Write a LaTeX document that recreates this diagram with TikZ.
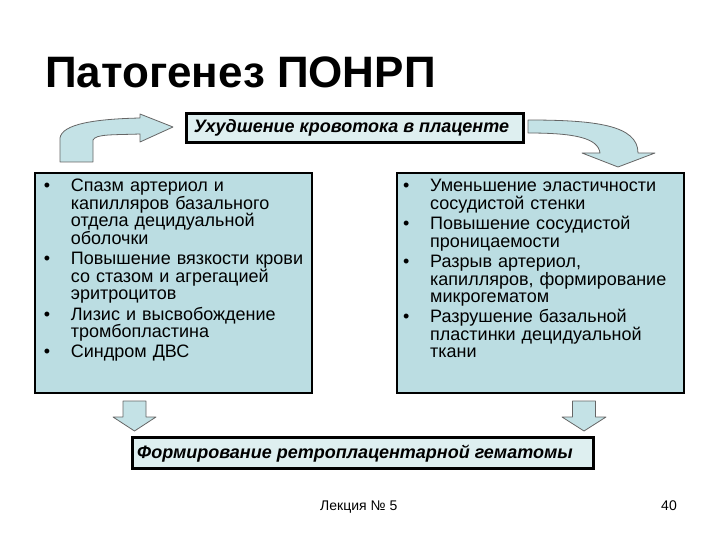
\documentclass[tikz,border=0pt]{standalone}
\usepackage{fontspec}
\setmainfont{Liberation Sans}
\definecolor{boxblue}{RGB}{187,221,226}
\definecolor{lightbox}{RGB}{222,239,240}
\definecolor{arrowfill}{RGB}{196,226,230}
\newcommand\bul{\leavevmode\llap{\makebox[27pt][l]{•}}}
\begin{document}
\begin{tikzpicture}[x=1pt,y=-1pt,
  sidebox/.style={draw=black, line width=2.5pt, fill=boxblue, inner sep=0pt},
  hbox/.style={draw=black, line width=3pt, fill=lightbox, inner sep=0pt},
  blockarrow/.style={fill=arrowfill, draw=black!60, line width=0.8pt, line join=round},
  listtext/.style={font=\fontsize{18}{17.5}\selectfont, text width=280pt, align=left, inner sep=0pt, anchor=base west},
  headtext/.style={font=\fontsize{18}{20}\selectfont\bfseries\itshape, inner sep=0pt},
  foot/.style={font=\fontsize{14}{16}\selectfont, inner sep=0pt}
]
\useasboundingbox (0,0) rectangle (720,540);

\node[anchor=base west, inner sep=0pt, font=\fontsize{44}{50}\selectfont\bfseries] (title) at (45,88) {Патогенез ПОНРП};

% top box
\node[hbox, minimum width=337pt, minimum height=29pt] (top) at (354.5,128.5) {};
\node[headtext, anchor=base] (toptext) at (351.5,133) {Ухудшение кровотока в плаценте};

% side boxes
\node[sidebox, minimum width=277pt, minimum height=220pt] (left) at (173.5,283) {};
\node[sidebox, minimum width=287pt, minimum height=220pt] (right) at (540.5,283) {};

\node[listtext] (lefttext) at (70.7,192) {\bul Спазм артериол и\\
капилляров базального\\
отдела децидуальной\\
оболочки\\[2.8pt]
\bul Повышение вязкости крови\\
со стазом и агрегацией\\
эритроцитов\\[2.8pt]
\bul Лизис и высвобождение\\
тромбопластина\\[2.8pt]
\bul Синдром ДВС};

\node[listtext] (righttext) at (430,192) {\bul Уменьшение эластичности\\
сосудистой стенки\\[2.8pt]
\bul Повышение сосудистой\\
проницаемости\\[2.8pt]
\bul Разрыв артериол,\\
капилляров, формирование\\
микрогематом\\[2.8pt]
\bul Разрушение базальной\\
пластинки децидуальной\\
ткани};

% bottom box
\node[hbox, minimum width=461pt, minimum height=31pt] (bottom) at (362.5,452.5) {};
\node[headtext, anchor=base west] (bottomtext) at (137,458) {Формирование ретроплацентарной гематомы};

% curved arrows
\draw[blockarrow] (60,162) -- (60,138) .. controls (62,124) and (95,119) .. (140,118)
  -- (140,114) -- (173,127) -- (140,142) -- (140,134)
  .. controls (112,135) and (96,134) .. (93,140) -- (93,162) -- cycle;
\draw[blockarrow] (528,120) .. controls (595,120) and (638,125) .. (638,153)
  -- (655,153) -- (618,167) -- (582,153) -- (600,153)
  .. controls (598,138) and (575,133) .. (528,133) -- cycle;

% down arrows
\draw[blockarrow] (123,401) -- (146,401) -- (146,417) -- (156,417) -- (134.5,431) -- (113,417) -- (123,417) -- cycle;
\draw[blockarrow] (572.5,401) -- (595.5,401) -- (595.5,417) -- (606,417) -- (584,431) -- (562,417) -- (572.5,417) -- cycle;

% footer
\node[foot, anchor=base west] (lect) at (320,510) {Лекция №~5};
\node[foot, anchor=base east] (page) at (677,510) {40};
\end{tikzpicture}
\end{document}
